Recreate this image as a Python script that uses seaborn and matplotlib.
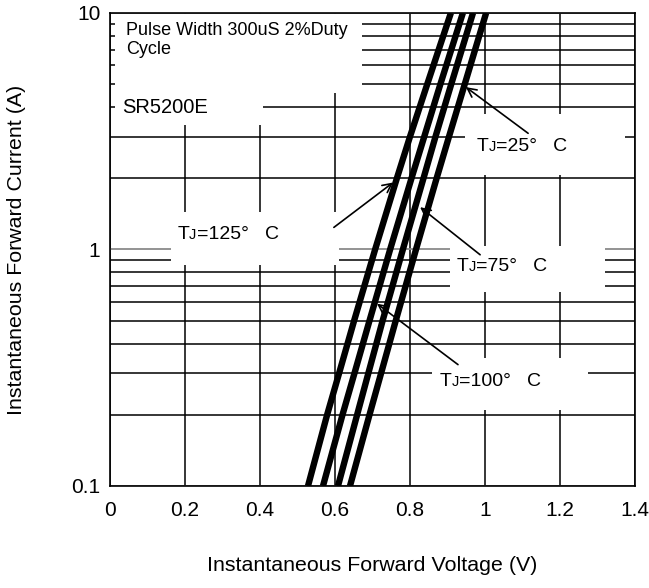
import matplotlib
matplotlib.use("Agg")
import matplotlib.pyplot as plt
import matplotlib.transforms as mtransforms
from matplotlib.patches import Rectangle
from matplotlib.ticker import LogLocator, NullFormatter, FixedLocator, FixedFormatter
import numpy as np
import pandas as pd
import seaborn as sns

# forward current (A) and forward voltage (V), one list per junction temperature
current = [0.1, 0.2, 0.3, 0.5, 1, 2, 3, 5, 10]
vf_125 = [0.528, 0.579, 0.611, 0.651, 0.707, 0.765, 0.800, 0.846, 0.909]
vf_100 = [0.568, 0.620, 0.652, 0.692, 0.747, 0.804, 0.838, 0.881, 0.941]
vf_75 = [0.608, 0.659, 0.689, 0.727, 0.781, 0.836, 0.868, 0.910, 0.968]
vf_25 = [0.640, 0.692, 0.723, 0.762, 0.816, 0.871, 0.904, 0.946, 1.003]

x_ticks = [0, 0.2, 0.4, 0.6, 0.8, 1.0, 1.2, 1.4]
x_tick_labels = ["0", "0.2", "0.4", "0.6", "0.8", "1", "1.2", "1.4"]
y_ticks = [0.1, 1, 10]
y_tick_labels = ["0.1", "1", "10"]

# label text, arrow tip (V, A) and arrow tail (V, A)
temps = ["125", "100", "75", "25"]
arrow_tips = [(0.755, 1.92), (0.712, 0.59), (0.827, 1.51), (0.949, 4.86)]
arrow_tails = [(0.597, 1.24), (0.928, 0.326), (0.987, 0.95), (1.115, 3.1)]

frames = []
for t, vf in zip(temps, [vf_125, vf_100, vf_75, vf_25]):
    frames.append(pd.DataFrame({"vf": vf, "if": current, "tj": t}))
df = pd.concat(frames, ignore_index=True)

sns.set_theme(style="white")
plt.rcParams["font.family"] = ["Liberation Sans", "DejaVu Sans"]

fig = plt.figure(figsize=(6.49, 5.88), dpi=100)
ax = fig.add_axes([0.1695, 0.1735, 0.8089, 0.8044])

sns.lineplot(data=df, x="vf", y="if", hue="tj", palette=["black"] * 4,
             sort=False, estimator=None, legend=False, lw=4.6, ax=ax, zorder=3,
             solid_capstyle="butt")

ax.set_yscale("log")
ax.set_xlim(0, 1.4)
ax.set_ylim(0.1, 10)

ax.xaxis.set_major_locator(FixedLocator(x_ticks))
ax.xaxis.set_major_formatter(FixedFormatter(x_tick_labels))
ax.yaxis.set_major_locator(FixedLocator(y_ticks))
ax.yaxis.set_major_formatter(FixedFormatter(y_tick_labels))
ax.yaxis.set_minor_locator(LogLocator(base=10, subs=np.arange(2, 10)))
ax.yaxis.set_minor_formatter(NullFormatter())

ax.set_axisbelow(True)
ax.grid(True, which="major", axis="x", color="black", lw=1.1)
ax.grid(True, which="minor", axis="y", color="black", lw=1.1)
ax.grid(True, which="major", axis="y", color="#8a8a8a", lw=1.3)

ax.tick_params(axis="both", which="both", length=0, labelsize=15, colors="black")
ax.tick_params(axis="x", pad=11)
ax.tick_params(axis="y", pad=7)

for s in ax.spines.values():
    s.set_color("black")
    s.set_linewidth(1.2)
    s.set_visible(True)

ax.set_xlabel("Instantaneous Forward Voltage (V)", fontsize=15.4, color="black")
ax.set_ylabel("Instantaneous Forward Current (A)", fontsize=15.4, color="black")
ax.xaxis.set_label_coords(0.5, -0.169)
ax.xaxis.label.set_va("center")
ax.yaxis.set_label_coords(-0.179, 0.499)
ax.yaxis.label.set_va("center")

# white boxes that hide the grid behind the notes (axes coords)
boxes = [
    (0.0095, 0.831, 0.471, 0.167),
    (0.0095, 0.763, 0.282, 0.070),
    (0.116, 0.467, 0.320, 0.112),
    (0.676, 0.657, 0.305, 0.129),
    (0.648, 0.410, 0.295, 0.097),
    (0.613, 0.161, 0.297, 0.110),
]
for bx, by, bw, bh in boxes:
    ax.add_patch(Rectangle((bx, by), bw, bh, transform=ax.transAxes,
                           facecolor="white", edgecolor="none", zorder=1))

ax.text(0.030, 0.962, "Pulse Width 300uS 2%Duty", transform=ax.transAxes,
        fontsize=13, va="center", ha="left", color="black", zorder=5)
ax.text(0.030, 0.922, "Cycle", transform=ax.transAxes,
        fontsize=13, va="center", ha="left", color="black", zorder=5)
ax.text(0.024, 0.801, "SR5200E", transform=ax.transAxes,
        fontsize=14.5, va="center", ha="left", color="black", zorder=5)

# T_J labels: big T, small J on the baseline, then the rest
label_pos = {"125": (0.128, 0.539), "100": (0.628, 0.228),
             "75": (0.661, 0.471), "25": (0.699, 0.725)}


def tj_label(xa, ya, temp):
    ax.text(xa, ya, "T", transform=ax.transAxes, fontsize=14,
            va="baseline", ha="left", color="black", zorder=5)
    tr = mtransforms.offset_copy(ax.transAxes, fig=fig, x=8.6, y=0, units="points")
    ax.text(xa, ya, "J", transform=tr, fontsize=10.5,
            va="baseline", ha="left", color="black", zorder=5)
    tr2 = mtransforms.offset_copy(ax.transAxes, fig=fig, x=14.0, y=0, units="points")
    ax.text(xa, ya, "=" + temp + "\u00b0   C", transform=tr2, fontsize=14,
            va="baseline", ha="left", color="black", zorder=5)


for t in temps:
    x0, y0 = label_pos[t]
    tj_label(x0, y0 - 0.017, t)

for tip, tail in zip(arrow_tips, arrow_tails):
    ax.annotate("", xy=tip, xytext=tail,
                arrowprops=dict(arrowstyle="->", color="black", lw=1.2,
                                shrinkA=0, shrinkB=0, mutation_scale=16),
                zorder=4)

fig.savefig("out.png", dpi=100)
